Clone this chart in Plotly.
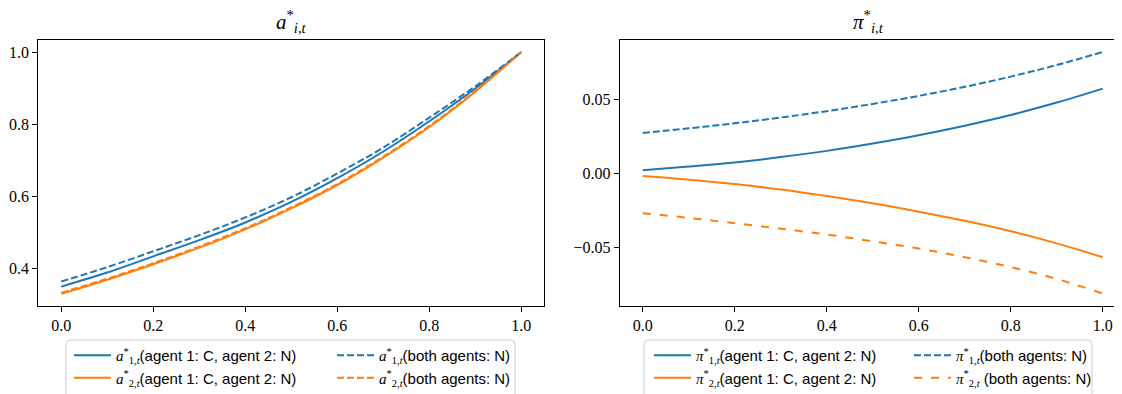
import plotly.graph_objects as go

# ---------------- data ----------------
t = [0.0, 0.1, 0.2, 0.3, 0.4, 0.5, 0.6, 0.7, 0.8, 0.9, 1.0]

a1_cn = [0.349, 0.388, 0.433, 0.478, 0.527, 0.584, 0.650, 0.724, 0.808, 0.899, 1.0]
a2_cn = [0.329, 0.368, 0.411, 0.457, 0.508, 0.566, 0.631, 0.707, 0.792, 0.890, 1.0]
a1_nn = [0.363, 0.403, 0.447, 0.492, 0.541, 0.597, 0.663, 0.735, 0.818, 0.905, 1.0]
a2_nn = [0.332, 0.371, 0.414, 0.460, 0.511, 0.569, 0.634, 0.710, 0.795, 0.892, 1.0]

pi1_cn = [0.0022, 0.0046, 0.0074, 0.0110, 0.0152, 0.0202, 0.0258, 0.0322, 0.0394, 0.0478, 0.0572]
pi2_cn = [-0.0017, -0.0042, -0.0072, -0.0108, -0.0152, -0.0202, -0.0258, -0.0320, -0.0390, -0.0472, -0.0565]
pi1_nn = [0.0273, 0.0304, 0.0338, 0.0377, 0.0420, 0.0469, 0.0523, 0.0584, 0.0653, 0.0731, 0.0819]
pi2_nn = [-0.0268, -0.0300, -0.0336, -0.0373, -0.0412, -0.0458, -0.0507, -0.0565, -0.0632, -0.0712, -0.0810]

x_ticks = [0.0, 0.2, 0.4, 0.6, 0.8, 1.0]
x_ticktext = ["0.0", "0.2", "0.4", "0.6", "0.8", "1.0"]
a_ticks = [0.4, 0.6, 0.8, 1.0]
a_ticktext = ["0.4", "0.6", "0.8", "1.0"]
pi_ticks = [-0.05, 0.0, 0.05]
pi_ticktext = ["\u22120.05", "0.00", "0.05"]

# ---------------- style ----------------
BLUE = "#1f77b4"
ORANGE = "#ff7f0e"
SERIF = "Liberation Serif"
SANS = "Liberation Sans"

# The page body has an 8px margin, so the figure starts at screen (8, 8).
OFF = 8
SCREEN_W, SCREEN_H = 1122, 394
W, H = SCREEN_W - OFF, SCREEN_H - OFF


def px(sx):
    """screen x pixel -> paper fraction"""
    return (sx - OFF) / W


def py(sy):
    """screen y pixel -> paper fraction"""
    return 1 - (sy - OFF) / H


def math(base, sub):
    return (f'<span style="font-family:{SERIF}"><i>{base}</i><sup>*</sup>'
            f'<sub>{sub}</sub></span>')


lbl_a1 = math("a", "1,<i>t</i>")
lbl_a2 = math("a", "2,<i>t</i>")
lbl_p1 = math("\u03c0", "1,<i>t</i>")
lbl_p2 = math("\u03c0", "2,<i>t</i>")

SOLID = dict(width=2, shape="spline")
DASH = dict(width=2, dash="7px,3px", shape="spline")
DASH_WIDE = dict(width=2, dash="8px,9px", shape="spline")

series = [
    # (x-axis, y-axis, y values, colour, line style, legend name, legend id, group)
    ("x", "y", a1_cn, BLUE, SOLID, lbl_a1 + "(agent 1: C, agent 2: N)", "legend", "g1"),
    ("x", "y", a2_cn, ORANGE, SOLID, lbl_a2 + "(agent 1: C, agent 2: N)", "legend", "g2"),
    ("x", "y", a1_nn, BLUE, DASH, lbl_a1 + "(both agents: N)", "legend2", "g3"),
    ("x", "y", a2_nn, ORANGE, DASH, lbl_a2 + "(both agents: N)", "legend2", "g4"),
    ("x2", "y2", pi1_cn, BLUE, SOLID, lbl_p1 + "(agent 1: C, agent 2: N)", "legend3", "g5"),
    ("x2", "y2", pi2_cn, ORANGE, SOLID, lbl_p2 + "(agent 1: C, agent 2: N)", "legend3", "g6"),
    ("x2", "y2", pi1_nn, BLUE, DASH, lbl_p1 + "(both agents: N)", "legend4", "g7"),
    ("x2", "y2", pi2_nn, ORANGE, DASH_WIDE, lbl_p2 + " (both agents: N)", "legend4", "g8"),
]

fig = go.Figure()
for xa, ya, yv, col, style, name, leg, grp in series:
    fig.add_trace(go.Scatter(x=t, y=yv, mode="lines", line=dict(color=col, **style),
                             name=name, legend=leg, legendgroup=grp, xaxis=xa, yaxis=ya))

# geometry in screen pixels of the reference
L1, R1 = 38.3, 544.3
L2 = 619.7
TOP, BOT = 40.0, 305.5
y_dom = [py(BOT), py(TOP)]
px_per_unit = 460.0
x2_max = -0.05 + (SCREEN_W - L2) / px_per_unit

axis_common = dict(showline=True, linecolor="black", linewidth=1, ticks="outside", ticklen=5,
                   tickwidth=1, tickcolor="black", showgrid=False, zeroline=False, automargin=False,
                   tickfont=dict(family=SERIF, size=16, color="black"))


def legend_at(text_sx):
    return dict(orientation="v", x=px(text_sx - 46), xanchor="left", y=0, yanchor="bottom",
                itemwidth=37, bgcolor="rgba(0,0,0,0)", borderwidth=0, tracegroupgap=13,
                font=dict(family=SANS, size=15, color="black"), traceorder="normal")


def frame_path(x0, x1, y0, r=4):
    X0, X1 = px(x0), px(x1)
    Y0 = py(y0)
    Yb = -0.05
    rx, ry = r / W, r / H
    return (f"M {X0},{Yb} L {X0},{Y0 - ry} Q {X0},{Y0} {X0 + rx},{Y0} "
            f"L {X1 - rx},{Y0} Q {X1},{Y0} {X1},{Y0 - ry} L {X1},{Yb}")


fig.update_layout(
    width=W, height=H,
    margin=dict(l=0, r=0, t=0, b=0),
    paper_bgcolor="white", plot_bgcolor="white",
    xaxis=dict(domain=[px(L1), px(R1)], range=[-0.05, 1.05], tickvals=x_ticks, ticktext=x_ticktext,
               mirror=True, anchor="y", **axis_common),
    yaxis=dict(domain=y_dom, range=[0.2965, 1.0335], tickvals=a_ticks, ticktext=a_ticktext,
               mirror=True, anchor="x", **axis_common),
    xaxis2=dict(domain=[px(L2), 1.0], range=[-0.05, x2_max], tickvals=x_ticks, ticktext=x_ticktext,
                mirror=True, anchor="y2", **axis_common),
    yaxis2=dict(domain=y_dom, range=[-0.0891, 0.0900], tickvals=pi_ticks, ticktext=pi_ticktext,
                mirror=False, anchor="x2", **axis_common),
    legend=legend_at(115),
    legend2=legend_at(378),
    legend3=legend_at(695),
    legend4=legend_at(955),
    shapes=[
        dict(type="path", xref="paper", yref="paper", path=frame_path(66, 515, 340),
             line=dict(color="#cccccc", width=1), fillcolor="white", layer="below"),
        dict(type="path", xref="paper", yref="paper", path=frame_path(644, 1092, 340),
             line=dict(color="#cccccc", width=1), fillcolor="white", layer="below"),
    ],
    annotations=[
        dict(text='<i>a</i><sup>*</sup><sub><i>i,t</i></sub>', x=px((L1 + R1) / 2), y=py(21),
             xref="paper", yref="paper", showarrow=False, xanchor="center", yanchor="middle",
             font=dict(family=SERIF, size=21, color="black")),
        dict(text='<i>\u03c0</i><sup>*</sup><sub><i>i,t</i></sub>', x=px(868), y=py(21),
             xref="paper", yref="paper", showarrow=False, xanchor="center", yanchor="middle",
             font=dict(family=SERIF, size=21, color="black")),
    ],
)

fig.write_html("out.html")
